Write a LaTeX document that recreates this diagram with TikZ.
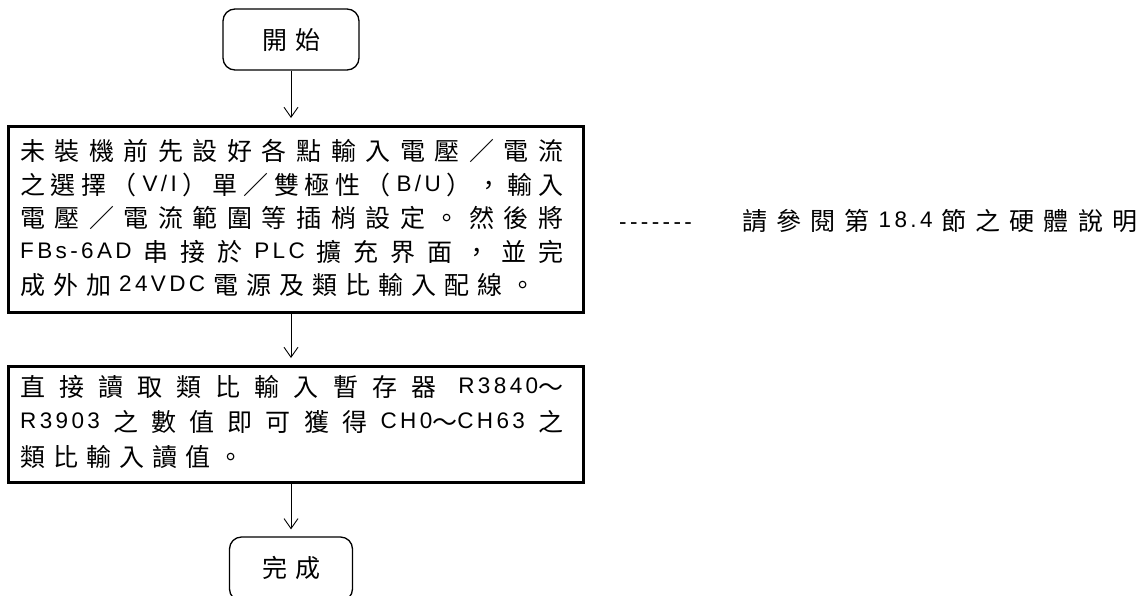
\documentclass[tikz,border=0pt]{standalone}
\usepackage{fontspec}
\setmainfont{Liberation Sans}
\newfontfamily\latf[LetterSpace=15,Scale=0.9]{Liberation Sans}
\newfontfamily\cjkf{Noto Sans CJK TC}
\newcommand\lt[1]{\raisebox{3pt}{\latf #1}}
\newcommand\rthree{\hskip8pt\relax\lt{R3840}～}
\usetikzlibrary{arrows.meta}
\makeatletter
\newcommand\jlsep{\hskip 8pt plus 1fil minus 6pt\relax}
\def\jl@loop#1#2\@nil{{#1}\if\relax\detokenize{#2}\relax\else\jlsep\jl@loop#2\@nil\fi}
\newcommand\jline[2]{\hbox to #1{\cjkf\jl@loop#2\@nil}}
\newcommand\nline[1]{\hbox{\cjkf\jl@loop#1\@nil}}
\makeatother
\tikzset{
  txt/.style={font=\fontsize{25pt}{33pt}\selectfont, inner sep=0pt, anchor=base west},
  frame/.style={draw, line width=2.6pt, inner sep=0pt, anchor=north west},
  term/.style={draw, line width=1.3pt, rounded corners=12pt, inner sep=0pt,
    font=\fontsize{25pt}{33pt}\selectfont},
  arr/.style={line width=0.9pt, -{Straight Barb[length=10pt,width=14pt]}, shorten >=7pt}
}
\begin{document}
\begin{tikzpicture}[x=1pt,y=-1pt]
\useasboundingbox (0,0) rectangle (1143,595);
% terminals
\node[term, minimum width=136pt, minimum height=61pt] (start) at (291,39.5) {\cjkf 開\hskip8pt\relax 始};
\node[term, minimum width=123pt, minimum height=64pt] (finish) at (291,569) {\raisebox{4pt}{\cjkf 完\hskip8pt\relax 成}};
% frames
\node[frame, minimum width=575pt, minimum height=186pt] (box1) at (7,125) {};
\node[frame, minimum width=575pt, minimum height=116pt] (box2) at (7,365) {};
% box 1 text
\node[txt] (l11) at (20,160.5) {\jline{543pt}{未裝機前先設好各點輸入電壓／電流}};
\node[txt] (l12) at (20,194) {\jline{543pt}{之選擇（{\lt{V/I}}）單／雙極性（{\lt{B/U}}），輸入}};
\node[txt] (l13) at (20,227.5) {\jline{543pt}{電壓／電流範圍等插梢設定。然後將}};
\node[txt] (l14) at (20,261) {\jline{543pt}{{\lt{FBs-6AD}}串接於{\lt{PLC}}擴充界面，並完}};
\node[txt] (l15) at (20,294) {\nline{成外加{\lt{24VDC}}電源及類比輸入配線。}};
% box 2 text
\node[txt] (l21) at (20,396.5) {\jline{543pt}{直接讀取類比輸入暫存器\rthree}};
\node[txt] (l22) at (20,431.5) {\jline{543pt}{{\lt{R3903}}之數值即可獲得{\lt{CH0}～\lt{CH63}}之}};
\node[txt] (l23) at (20,466.5) {\nline{類比輸入讀值。}};
% note
\node[txt] (dash) at (619,229.3) {\latf -{}-{}-{}-{}-{}-{}-};
\node[txt] (note) at (742,230.5) {\jline{395pt}{請參閱第{\lt{18.4}}節之硬體說明}};
% connectors
\draw[arr] (start.south) -- (box1.north -| start.south);
\draw[arr] (box1.south -| start.south) -- (box2.north -| start.south);
\draw[arr] (box2.south -| start.south) -- (finish.north);
\end{tikzpicture}
\end{document}
